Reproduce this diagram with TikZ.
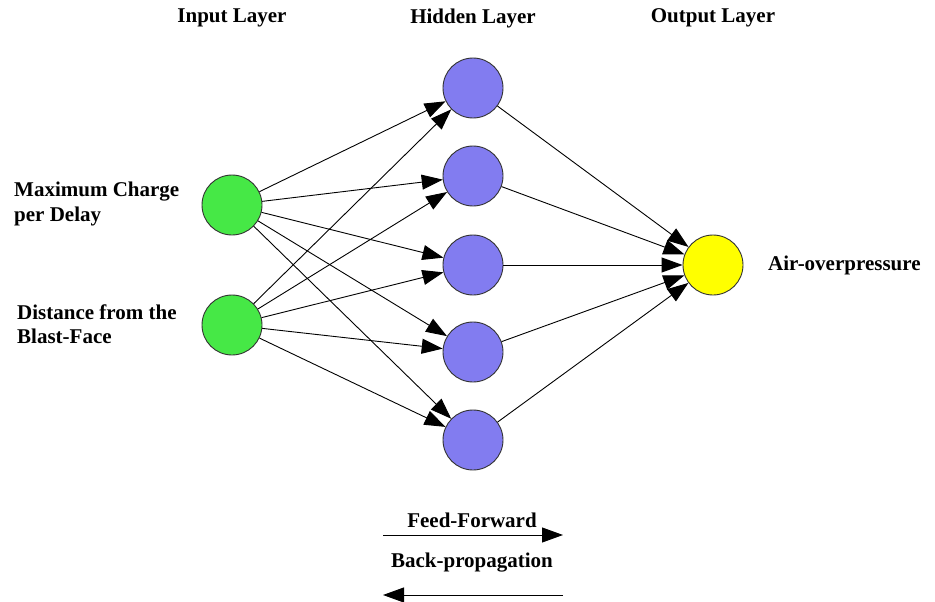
\documentclass[tikz,border=0pt]{standalone}
\usepackage{fontspec}
\setmainfont{Liberation Serif}
\usetikzlibrary{arrows.meta}
\definecolor{inputgreen}{RGB}{70,232,70}
\definecolor{hiddenblue}{RGB}{130,124,240}
\definecolor{outyellow}{RGB}{255,255,0}
\tikzset{
  neuron/.style={circle,draw=black!80,line width=0.9pt,minimum size=60pt,inner sep=0pt},
  inneuron/.style={neuron,fill=inputgreen},
  hidneuron/.style={neuron,fill=hiddenblue},
  outneuron/.style={neuron,fill=outyellow},
  link/.style={line width=0.9pt,-{Triangle[length=21pt,width=15pt]}},
  lbl/.style={font=\bfseries\fontsize{21}{24.5}\selectfont,align=left,inner sep=0pt},
  head/.style={font=\bfseries\fontsize{21}{24}\selectfont,inner sep=0pt}
}
\begin{document}
\begin{tikzpicture}[x=1pt,y=-1pt]
\useasboundingbox (0,0) rectangle (935,602);
% layer titles
\node[head] (tin)  at (232,18) {Input Layer};
\node[head] (thid) at (473,18) {Hidden Layer};
\node[head] (tout) at (713,18) {Output Layer};
% input layer
\node[inneuron] (i1) at (232,205) {};
\node[inneuron] (i2) at (232,325) {};
% hidden layer
\node[hidneuron] (h1) at (473,88) {};
\node[hidneuron] (h2) at (473,176) {};
\node[hidneuron] (h3) at (473,265) {};
\node[hidneuron] (h4) at (473,352) {};
\node[hidneuron] (h5) at (473,440) {};
% output layer
\node[outneuron] (o) at (713,265) {};
% input labels
\node[lbl,anchor=west] (l1) at (14,204) {Maximum Charge\\per Delay};
\node[lbl,anchor=west] (l2) at (17,324) {Distance from the\\Blast-Face};
\node[lbl,anchor=west] (l3) at (768,265) {Air-overpressure};
% connections
\foreach \i in {i1,i2}
  \foreach \h in {h1,h2,h3,h4,h5}
    \draw[link] (\i) -- (\h);
\foreach \h in {h1,h2,h3,h4,h5}
  \draw[link] (\h) -- (o);
% legend
\node[head] (ff) at (472,520) {Feed-Forward};
\node[head] (bp) at (472,563) {Back-propagation};
\coordinate (ffa) at (383,535);
\coordinate (ffb) at (563,535);
\coordinate (bpa) at (563,595);
\coordinate (bpb) at (383,595);
\draw[link] (ffa) -- (ffb);
\draw[link] (bpa) -- (bpb);
\end{tikzpicture}
\end{document}
